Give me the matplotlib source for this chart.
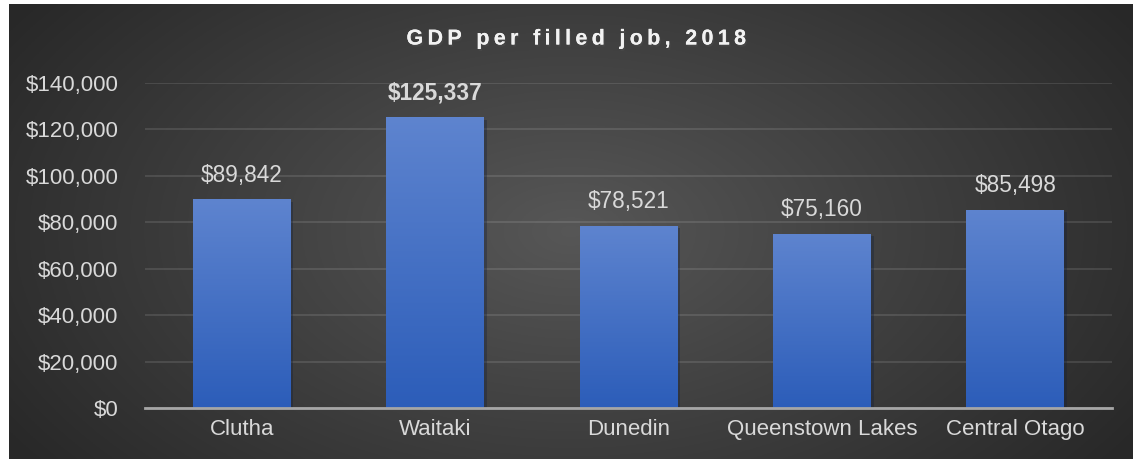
import numpy as np
import matplotlib.pyplot as plt
import matplotlib.patheffects as pe
from matplotlib.ticker import FuncFormatter

# data
regions = ['Clutha', 'Waitaki', 'Dunedin', 'Queenstown Lakes', 'Central Otago']
gdp_per_job = [89842, 125337, 78521, 75160, 85498]
highlight = 'Waitaki'
title = 'GDP per filled job, 2018'

plt.rcParams['font.family'] = ['Liberation Sans', 'DejaVu Sans']

fig = plt.figure(figsize=(11.33, 4.59), dpi=100)
fig.patch.set_facecolor('white')

# dark radial background
bg = fig.add_axes([9 / 1133, 0, 1 - 9 / 1133, 1 - 4 / 459])
bg.set_axis_off()
yy, xx = np.mgrid[0:1:300j, 0:1:600j]
r = np.sqrt(((xx - 0.5) / 0.62) ** 2 + ((yy - 0.5) / 0.9) ** 2)
shade = np.clip(0.34 - 0.19 * r, 0.16, 0.34)
bg.imshow(np.dstack([shade] * 3), extent=[0, 1, 0, 1], aspect='auto')

ax = fig.add_axes([145 / 1133, 1 - 408 / 459, 967 / 1133, 325 / 459])
ax.set_facecolor('none')

x = np.arange(len(regions))
bars = ax.bar(x, gdp_per_job, width=0.505, color='#3c68c4', zorder=3,
              path_effects=[pe.SimplePatchShadow(offset=(2, -2), alpha=0.35), pe.Normal()])

# vertical gradient on each bar
grad = np.linspace(0, 1, 256).reshape(-1, 1)
top = np.array([0x5e, 0x84, 0xcf]) / 255
bot = np.array([0x2c, 0x5d, 0xb9]) / 255
img = top[None, None, :] * (1 - grad[:, :, None]) + bot[None, None, :] * grad[:, :, None]
for b in bars:
    im = ax.imshow(img, extent=[b.get_x(), b.get_x() + b.get_width(), 0, b.get_height()],
                   aspect='auto', zorder=4)
    im.set_clip_path(b)

for b, name, v in zip(bars, regions, gdp_per_job):
    ax.annotate(f'${v:,}', (b.get_x() + b.get_width() / 2, v), xytext=(0, 9),
                textcoords='offset points', ha='center', va='bottom',
                fontsize=16.3, color='#d9d9d9',
                fontweight='bold' if name == highlight else 'normal')

ax.set_xlim(-0.5, len(regions) - 0.5)
ax.set_ylim(0, 140000)
ax.set_yticks(np.arange(0, 140001, 20000))
ax.yaxis.set_major_formatter(FuncFormatter(lambda v, p: f'${v:,.0f}'))
ax.set_xticks(x)
ax.set_xticklabels(regions)
ax.tick_params(axis='both', length=0, labelsize=16, colors='#d9d9d9')
ax.tick_params(axis='y', pad=19)
ax.tick_params(axis='x', pad=8)

ax.grid(axis='y', color='white', alpha=0.12, linewidth=1.3, zorder=0)
for s in ['top', 'right', 'left']:
    ax.spines[s].set_visible(False)
ax.spines['bottom'].set_color('#a6a6a6')
ax.spines['bottom'].set_linewidth(2)
ax.spines['bottom'].set_zorder(5)

# letter-spaced title (thin spaces between characters)
spaced = '\u2009'.join(title)
fig.text(0.508, 1 - 39 / 459, spaced, ha='center', va='center',
         fontsize=15.5, fontweight='bold', color='#f2f2f2',
         path_effects=[pe.withSimplePatchShadow(offset=(1, -1.5), alpha=0.7), pe.Normal()])

fig.savefig('out.png', dpi=100)
